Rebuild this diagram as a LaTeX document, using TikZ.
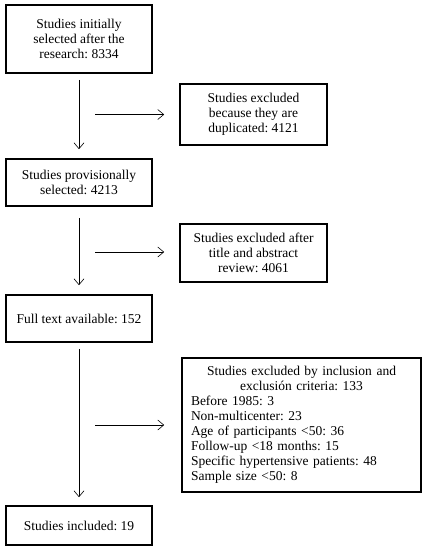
\documentclass[tikz,border=0pt]{standalone}
\usepackage{fontspec}
\setmainfont{Liberation Serif}
\frenchspacing
\usetikzlibrary{arrows.meta}
\tikzset{
  box/.style={draw, line width=1.6pt, align=center, inner sep=3pt,
              font=\fontsize{13.5}{15}\selectfont},
  flow/.style={line width=0.6pt, -{Straight Barb[length=6pt,width=10pt]}},
}
\begin{document}
\begin{tikzpicture}[x=1pt,y=-1pt]%{{{
\useasboundingbox (0,0) rectangle (425,550);
%
% Left column
\node [box, minimum width=146, minimum height=68] (init) at (79,39)
      {Studies initially\\ selected after the\\ research: 8334};
\node [box, minimum width=146, minimum height=47] (prov) at (79,182.5)
      {Studies provisionally\\ selected: 4213};
\node [box, minimum width=146, minimum height=47] (full) at (79,318.5)
      {Full text available: 152};
\node [box, minimum width=146, minimum height=39] (incl) at (79,525.5)
      {Studies included: 19};
%
% Excluded
\node [box, minimum width=147, minimum height=61] (dup) at (253.5,114.5)
      {Studies excluded\\ because they are\\ duplicated: 4121};
\node [box, minimum width=147, minimum height=58] (title) at (253.5,253)
      {Studies excluded after\\ title and abstract\\ review: 4061};
\node [box, minimum width=239, minimum height=134, text width=221,
       align=left] (crit) at (301.5,425)
      {{\centering Studies excluded by inclusion and\\
        exclusión criteria: 133\par}
       Before 1985: 3\\
       Non-multicenter: 23\\
       Age of participants <50: 36\\
       Follow-up <18 months: 15\\
       Specific hypertensive patients: 48\\
       Sample size <50: 8};
%
% Arrows down
\draw [flow, shorten <=6pt, shorten >=9pt] (init) -- (prov);
\draw [flow, shorten <=11pt, shorten >=9pt] (prov) -- (full);
\draw [flow, shorten <=6pt, shorten >=8pt] (full) -- (incl);
%
% Arrows right
\coordinate (a1) at (95,114.5);
\coordinate (a2) at (95,252);
\coordinate (a3) at (95,425);
\draw [flow, shorten >=15pt] (a1) -- (dup.west |- a1);
\draw [flow, shorten >=15pt] (a2) -- (title.west |- a2);
\draw [flow, shorten >=17pt] (a3) -- (crit.west |- a3);
%
\end{tikzpicture}
\end{document}
